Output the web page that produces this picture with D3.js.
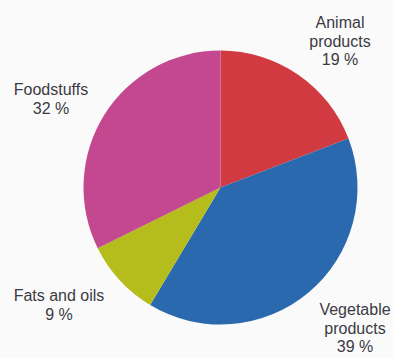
<!DOCTYPE html>
<html><head><meta charset="utf-8">
<script src="https://cdn.jsdelivr.net/npm/d3@7"></script>
<style>html,body{margin:0;padding:0;background:#fafafa;}svg{display:block;}</style>
</head><body>
<script>
const categories = ["Animal products", "Vegetable products", "Fats and oils", "Foodstuffs"];
const values = [19, 39, 9, 32];
const colors = ["#d13a41", "#2a69ae", "#b4bd1b", "#c4488f"];
const labelLines = [["Animal", "products", "19 %"], ["Vegetable", "products", "39 %"], ["Fats and oils", "9 %"], ["Foodstuffs", "32 %"]];

const W = 393, H = 358;
const svg = d3.select("body").append("svg").attr("width", W).attr("height", H);
svg.append("rect").attr("width", W).attr("height", H).attr("fill", "#fafafa");

const cx = 220.5, cy = 187.5, r = 137;
const pie = d3.pie().sort(null).value(d => d)(values);
const arc = d3.arc().innerRadius(0).outerRadius(r);
const g = svg.append("g").attr("transform", `translate(${cx},${cy})`);
g.selectAll("path").data(pie).join("path")
  .attr("d", arc).attr("fill", (d, i) => colors[i]);

// label anchor positions (center x, first baseline y)
const labelPos = [[340, 28], [355, 315], [59, 301], [51, 95]];
const lh = 18.5;
labelLines.forEach((lines, i) => {
  const t = svg.append("text").attr("text-anchor", "middle")
    .attr("font-family", "Liberation Sans, Arial, sans-serif")
    .attr("font-size", 16).attr("fill", "#3a3a44");
  lines.forEach((s, j) => {
    t.append("tspan").attr("x", labelPos[i][0]).attr("y", labelPos[i][1] + j * lh).text(s);
  });
});
</script>
</body></html>
